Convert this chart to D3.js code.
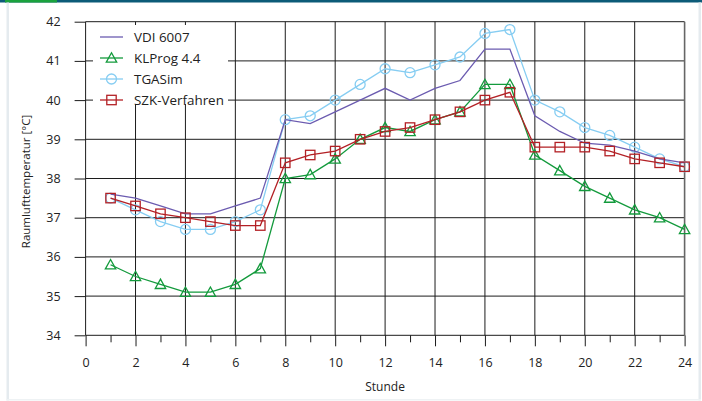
<!DOCTYPE html>
<html>
<head>
<meta charset="utf-8">
<script src="https://cdn.jsdelivr.net/npm/d3@7"></script>
<style>
  html, body { margin: 0; padding: 0; background: #fff; }
  svg { display: block; font-family: "Open Sans", "Noto Sans", sans-serif; }
</style>
</head>
<body>
<svg id="chart" width="702" height="401"></svg>
<script>
// Hourly room air temperature, four calculation methods
const hours = d3.range(1, 25);
const vdi6007 = [37.6, 37.5, 37.3, 37.1, 37.1, 37.3, 37.5, 39.5, 39.4, 39.7, 40.0, 40.3,
                 40.0, 40.3, 40.5, 41.3, 41.3, 39.6, 39.2, 38.9, 38.85, 38.7, 38.5, 38.4];
const klprog = [35.8, 35.5, 35.3, 35.1, 35.1, 35.3, 35.7, 38.0, 38.1, 38.5, 39.0, 39.3,
                39.2, 39.5, 39.7, 40.4, 40.4, 38.6, 38.2, 37.8, 37.5, 37.2, 37.0, 36.7];
const tgasim = [37.5, 37.2, 36.9, 36.7, 36.7, 36.9, 37.2, 39.5, 39.6, 40.0, 40.4, 40.8,
                40.7, 40.9, 41.1, 41.7, 41.8, 40.0, 39.7, 39.3, 39.1, 38.8, 38.5, 38.3];
const szk = [37.5, 37.3, 37.1, 37.0, 36.9, 36.8, 36.8, 38.4, 38.6, 38.7, 39.0, 39.2,
             39.3, 39.5, 39.7, 40.0, 40.2, 38.8, 38.8, 38.8, 38.7, 38.5, 38.4, 38.3];

const seriesNames = ["VDI 6007", "KLProg 4.4", "TGASim", "SZK-Verfahren"];
const xTickLabels = d3.range(0, 25, 2);
const yTickLabels = d3.range(34, 43, 1);

const series = [
  { name: seriesNames[0], values: vdi6007, color: "#6b5bb0", marker: "none" },
  { name: seriesNames[1], values: klprog,  color: "#139a3c", marker: "triangle" },
  { name: seriesNames[2], values: tgasim,  color: "#86cdf2", marker: "circle" },
  { name: seriesNames[3], values: szk,     color: "#b32025", marker: "square" }
];

const svg = d3.select("#chart");

// Page frame: top band and light side rules
svg.append("rect").attr("x", 0).attr("y", 0).attr("width", 702).attr("height", 2.5).attr("fill", "#0c5b78");
svg.append("rect").attr("x", 5).attr("y", 0).attr("width", 52).attr("height", 2.5).attr("fill", "#1aa23d");
svg.append("rect").attr("x", 6.5).attr("y", 2.5).attr("width", 2.5).attr("height", 398).attr("fill", "#e5ebef");
svg.append("rect").attr("x", 698.5).attr("y", 2.5).attr("width", 2.5).attr("height", 398).attr("fill", "#e5ebef");
svg.append("rect").attr("x", 6.5).attr("y", 399).attr("width", 694.5).attr("height", 1.5).attr("fill", "#eef2f4");

const plotLeft = 85.6, plotRight = 684.6, plotTop = 21.7, plotBottom = 335.3;
const x = d3.scaleLinear().domain([0, 24]).range([plotLeft, plotRight]);
const y = d3.scaleLinear().domain([34, 42]).range([plotBottom, plotTop]);

const gridColor = "#1c1c1c";

// Horizontal grid with outward ticks on the left
const yAxis = svg.append("g")
  .attr("transform", `translate(${plotLeft},0)`)
  .call(d3.axisLeft(y).tickValues(yTickLabels).tickSize(11).tickPadding(14).tickFormat(d3.format("d")));
yAxis.select(".domain").remove();
yAxis.selectAll("line").attr("stroke", gridColor);
yAxis.selectAll("text").attr("font-size", 12.5).attr("fill", "#222").attr("font-family", "Open Sans");

svg.append("g").selectAll("line").data(yTickLabels).join("line")
  .attr("x1", plotLeft).attr("x2", plotRight)
  .attr("y1", d => y(d)).attr("y2", d => y(d))
  .attr("stroke", gridColor).attr("stroke-width", 1);

// Vertical grid at even hours
svg.append("g").selectAll("line").data(xTickLabels).join("line")
  .attr("x1", d => x(d)).attr("x2", d => x(d))
  .attr("y1", plotTop).attr("y2", plotBottom)
  .attr("stroke", d => d === 24 ? "#666" : gridColor).attr("stroke-width", d => d === 24 ? 1.6 : 1);

// Minor ticks at odd hours
const xMinor = svg.append("g")
  .attr("transform", `translate(0,${plotBottom})`)
  .call(d3.axisBottom(x).tickValues(d3.range(1, 24, 2)).tickSize(7).tickFormat(""));
xMinor.select(".domain").remove();
xMinor.selectAll("line").attr("stroke", gridColor);

// Major ticks and labels
const xAxis = svg.append("g")
  .attr("transform", `translate(0,${plotBottom})`)
  .call(d3.axisBottom(x).tickValues(xTickLabels).tickSize(11).tickPadding(12).tickFormat(d3.format("d")));
xAxis.select(".domain").remove();
xAxis.selectAll("line").attr("stroke", gridColor);
xAxis.selectAll("text").attr("font-size", 12.5).attr("fill", "#222").attr("font-family", "Open Sans");

// Axis titles
svg.append("text")
  .attr("x", (plotLeft + plotRight) / 2).attr("y", 391)
  .attr("text-anchor", "middle").attr("font-size", 12).attr("fill", "#222")
  .text("Stunde");
svg.append("text")
  .attr("transform", `translate(30,${(plotTop + plotBottom) / 2 + 3}) rotate(-90)`)
  .attr("text-anchor", "middle").attr("font-size", 11.5).attr("fill", "#222")
  .text("Raumlufttemperatur [°C]");

// Markers
function drawMarker(g, type, color, cx, cy) {
  if (type === "triangle") {
    const s = 5.2;
    g.append("path")
      .attr("d", `M${cx},${cy - s} L${cx + s},${cy + s * 0.8} L${cx - s},${cy + s * 0.8} Z`)
      .attr("fill", "none").attr("stroke", color).attr("stroke-width", 1.3);
  } else if (type === "circle") {
    g.append("circle").attr("cx", cx).attr("cy", cy).attr("r", 5)
      .attr("fill", "none").attr("stroke", color).attr("stroke-width", 1.3);
  } else if (type === "square") {
    g.append("rect").attr("x", cx - 4.7).attr("y", cy - 4.7).attr("width", 9.4).attr("height", 9.4)
      .attr("fill", "none").attr("stroke", color).attr("stroke-width", 1.3);
  }
}

const line = d3.line().x((d, i) => x(hours[i])).y(d => y(d));

// Draw series (blue and purple first, then green, red on top)
const drawOrder = [2, 0, 1, 3];
drawOrder.forEach(k => {
  const s = series[k];
  const g = svg.append("g");
  g.append("path").datum(s.values)
    .attr("d", line).attr("fill", "none")
    .attr("stroke", s.color).attr("stroke-width", 1.3);
  s.values.forEach((v, i) => drawMarker(g, s.marker, s.color, x(hours[i]), y(v)));
});

// Legend
const legend = svg.append("g");
legend.append("rect").attr("x", 93).attr("y", 25).attr("width", 135).attr("height", 79).attr("fill", "#fff");
series.forEach((s, i) => {
  const ly = 37 + i * 21;
  const lg = legend.append("g");
  lg.append("line").attr("x1", 100).attr("x2", 123).attr("y1", ly).attr("y2", ly)
    .attr("stroke", s.color).attr("stroke-width", 1.3);
  drawMarker(lg, s.marker, s.color, 111.5, ly);
  lg.append("text").attr("x", 134).attr("y", ly + 5)
    .attr("font-size", 13.4).attr("fill", "#222").text(s.name);
});
</script>
</body>
</html>
